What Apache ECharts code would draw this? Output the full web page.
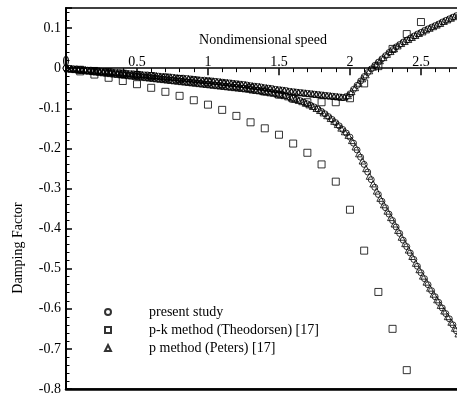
<!DOCTYPE html>
<html>
<head>
<meta charset="utf-8">
<script src="https://cdn.jsdelivr.net/npm/echarts@6/dist/echarts.min.js"></script>
<style>
  html, body { margin: 0; padding: 0; background: #fff; }
  #chart { width: 457px; height: 398px; }
</style>
</head>
<body>
<div id="chart"></div>
<script>
// Speed sweep used by the present study (circles)
const presentSpeed = [
  0, 0.025, 0.05, 0.075, 0.1, 0.125, 0.15, 0.175, 0.2, 0.225,
  0.25, 0.275, 0.3, 0.325, 0.35, 0.375, 0.4, 0.425, 0.45, 0.475,
  0.5, 0.525, 0.55, 0.575, 0.6, 0.625, 0.65, 0.675, 0.7, 0.725,
  0.75, 0.775, 0.8, 0.825, 0.85, 0.875, 0.9, 0.925, 0.95, 0.975,
  1, 1.025, 1.05, 1.075, 1.1, 1.125, 1.15, 1.175, 1.2, 1.225,
  1.25, 1.275, 1.3, 1.325, 1.35, 1.375, 1.4, 1.425, 1.45, 1.475,
  1.5, 1.525, 1.55, 1.575, 1.6, 1.625, 1.65, 1.675, 1.7, 1.725,
  1.75, 1.775, 1.8, 1.825, 1.85, 1.875, 1.9, 1.925, 1.95, 1.975,
  2, 2.025, 2.05, 2.075, 2.1, 2.125, 2.15, 2.175, 2.2, 2.225,
  2.25, 2.275, 2.3, 2.325, 2.35, 2.375, 2.4, 2.425, 2.45, 2.475,
  2.5, 2.525, 2.55, 2.575, 2.6, 2.625, 2.65, 2.675, 2.7, 2.725,
  2.75
];
// Present study, flutter mode
const presentModeA = [
  0, -0.001, -0.002, -0.002, -0.003, -0.004, -0.005, -0.005, -0.006, -0.007,
  -0.008, -0.008, -0.009, -0.010, -0.011, -0.011, -0.012, -0.013, -0.014, -0.014,
  -0.015, -0.016, -0.017, -0.017, -0.018, -0.019, -0.020, -0.021, -0.021, -0.022,
  -0.023, -0.024, -0.025, -0.025, -0.026, -0.027, -0.028, -0.029, -0.030, -0.030,
  -0.031, -0.032, -0.033, -0.034, -0.035, -0.036, -0.037, -0.038, -0.039, -0.040,
  -0.041, -0.042, -0.044, -0.045, -0.046, -0.047, -0.049, -0.050, -0.051, -0.053,
  -0.054, -0.055, -0.056, -0.058, -0.059, -0.060, -0.061, -0.062, -0.063, -0.064,
  -0.065, -0.066, -0.067, -0.068, -0.069, -0.070, -0.071, -0.072, -0.073, -0.071,
  -0.064, -0.053, -0.043, -0.032, -0.021, -0.011, -0.002, 0.007, 0.015, 0.023,
  0.031, 0.039, 0.046, 0.053, 0.059, 0.065, 0.070, 0.075, 0.080, 0.085,
  0.089, 0.094, 0.098, 0.102, 0.106, 0.110, 0.115, 0.119, 0.123, 0.127,
  0.131
];
// Present study, damped mode
const presentModeB = [
  0, -0.001, -0.002, -0.003, -0.004, -0.005, -0.006, -0.007, -0.008, -0.009,
  -0.010, -0.011, -0.012, -0.013, -0.014, -0.015, -0.016, -0.017, -0.018, -0.019,
  -0.020, -0.021, -0.022, -0.023, -0.024, -0.025, -0.026, -0.027, -0.028, -0.029,
  -0.030, -0.031, -0.032, -0.033, -0.034, -0.035, -0.036, -0.037, -0.038, -0.039,
  -0.040, -0.041, -0.042, -0.043, -0.044, -0.045, -0.046, -0.047, -0.048, -0.049,
  -0.050, -0.051, -0.053, -0.054, -0.055, -0.057, -0.058, -0.060, -0.061, -0.063,
  -0.065, -0.067, -0.069, -0.072, -0.075, -0.078, -0.081, -0.085, -0.089, -0.093,
  -0.097, -0.102, -0.108, -0.114, -0.121, -0.128, -0.136, -0.144, -0.153, -0.162,
  -0.172, -0.187, -0.204, -0.222, -0.240, -0.259, -0.278, -0.297, -0.315, -0.332,
  -0.348, -0.364, -0.380, -0.396, -0.412, -0.429, -0.445, -0.461, -0.477, -0.494,
  -0.510, -0.525, -0.540, -0.555, -0.570, -0.584, -0.598, -0.612, -0.625, -0.640,
  -0.655
];

// Speed sweep used by the p method (triangles)
const petersSpeed = [
  0.0125, 0.0375, 0.0625, 0.0875, 0.1125, 0.1375, 0.1625, 0.1875, 0.2125, 0.2375,
  0.2625, 0.2875, 0.3125, 0.3375, 0.3625, 0.3875, 0.4125, 0.4375, 0.4625, 0.4875,
  0.5125, 0.5375, 0.5625, 0.5875, 0.6125, 0.6375, 0.6625, 0.6875, 0.7125, 0.7375,
  0.7625, 0.7875, 0.8125, 0.8375, 0.8625, 0.8875, 0.9125, 0.9375, 0.9625, 0.9875,
  1.0125, 1.0375, 1.0625, 1.0875, 1.1125, 1.1375, 1.1625, 1.1875, 1.2125, 1.2375,
  1.2625, 1.2875, 1.3125, 1.3375, 1.3625, 1.3875, 1.4125, 1.4375, 1.4625, 1.4875,
  1.5125, 1.5375, 1.5625, 1.5875, 1.6125, 1.6375, 1.6625, 1.6875, 1.7125, 1.7375,
  1.7625, 1.7875, 1.8125, 1.8375, 1.8625, 1.8875, 1.9125, 1.9375, 1.9625, 1.9875,
  2.0125, 2.0375, 2.0625, 2.0875, 2.1125, 2.1375, 2.1625, 2.1875, 2.2125, 2.2375,
  2.2625, 2.2875, 2.3125, 2.3375, 2.3625, 2.3875, 2.4125, 2.4375, 2.4625, 2.4875,
  2.5125, 2.5375, 2.5625, 2.5875, 2.6125, 2.6375, 2.6625, 2.6875, 2.7125, 2.7375,
  2.7625
];
const petersModeA = [
  -0.001, -0.001, -0.002, -0.003, -0.003, -0.004, -0.005, -0.006, -0.006, -0.007,
  -0.008, -0.009, -0.009, -0.010, -0.011, -0.012, -0.012, -0.013, -0.014, -0.015,
  -0.015, -0.016, -0.017, -0.018, -0.018, -0.019, -0.020, -0.021, -0.022, -0.022,
  -0.023, -0.024, -0.025, -0.026, -0.026, -0.027, -0.028, -0.029, -0.030, -0.031,
  -0.031, -0.032, -0.033, -0.034, -0.035, -0.036, -0.037, -0.038, -0.039, -0.040,
  -0.041, -0.043, -0.044, -0.045, -0.046, -0.048, -0.049, -0.050, -0.052, -0.053,
  -0.054, -0.055, -0.057, -0.058, -0.059, -0.060, -0.061, -0.062, -0.063, -0.064,
  -0.065, -0.066, -0.067, -0.068, -0.069, -0.070, -0.071, -0.072, -0.072, -0.068,
  -0.058, -0.048, -0.037, -0.026, -0.016, -0.006, 0.003, 0.011, 0.019, 0.027,
  0.035, 0.042, 0.049, 0.056, 0.062, 0.067, 0.072, 0.077, 0.082, 0.087,
  0.091, 0.096, 0.100, 0.104, 0.108, 0.112, 0.117, 0.121, 0.125, 0.129,
  0.133
];
const petersModeB = [
  -0.001, -0.002, -0.003, -0.004, -0.005, -0.006, -0.007, -0.008, -0.009, -0.010,
  -0.011, -0.012, -0.013, -0.014, -0.015, -0.016, -0.017, -0.018, -0.019, -0.020,
  -0.021, -0.022, -0.023, -0.024, -0.025, -0.026, -0.027, -0.028, -0.029, -0.030,
  -0.031, -0.032, -0.033, -0.034, -0.035, -0.036, -0.037, -0.038, -0.039, -0.040,
  -0.041, -0.042, -0.043, -0.044, -0.045, -0.046, -0.047, -0.048, -0.049, -0.050,
  -0.051, -0.052, -0.054, -0.055, -0.056, -0.058, -0.059, -0.061, -0.062, -0.064,
  -0.066, -0.068, -0.071, -0.074, -0.077, -0.080, -0.083, -0.087, -0.091, -0.095,
  -0.100, -0.105, -0.111, -0.118, -0.125, -0.132, -0.140, -0.149, -0.158, -0.167,
  -0.180, -0.196, -0.213, -0.231, -0.250, -0.269, -0.288, -0.306, -0.324, -0.340,
  -0.356, -0.372, -0.388, -0.404, -0.421, -0.437, -0.453, -0.469, -0.486, -0.502,
  -0.518, -0.533, -0.548, -0.563, -0.577, -0.591, -0.605, -0.619, -0.633, -0.648,
  -0.662
];

// p-k method (squares)
const pkSpeedA = [
  0.1, 0.2, 0.3, 0.4, 0.5, 0.6, 0.7, 0.8, 0.9, 1.0,
  1.1, 1.2, 1.3, 1.4, 1.5, 1.6, 1.7, 1.8, 1.9, 2.0,
  2.1, 2.2, 2.3, 2.4, 2.5
];
const pkModeA = [
  -0.004, -0.007, -0.010, -0.014, -0.017, -0.020, -0.024, -0.027, -0.031, -0.035,
  -0.039, -0.044, -0.050, -0.058, -0.066, -0.076, -0.085, -0.085, -0.085, -0.075,
  -0.038, 0.005, 0.048, 0.085, 0.115
];
const pkSpeedB = [
  0.1, 0.2, 0.3, 0.4, 0.5, 0.6, 0.7, 0.8, 0.9, 1.0,
  1.1, 1.2, 1.3, 1.4, 1.5, 1.6, 1.7, 1.8, 1.9, 2.0,
  2.1, 2.2, 2.3, 2.4
];
const pkModeB = [
  -0.008, -0.016, -0.024, -0.032, -0.040, -0.049, -0.059, -0.069, -0.080, -0.091,
  -0.104, -0.119, -0.135, -0.150, -0.166, -0.188, -0.211, -0.240, -0.283, -0.353,
  -0.455, -0.558, -0.650, -0.753
];

const xTicks = ['0', '0.5', '1', '1.5', '2', '2.5'];
const legendNames = ['present study', 'p-k method (Theodorsen) [17]', 'p method (Peters) [17]'];

const FONT = '"Liberation Serif", "Times New Roman", serif';
const GRID_TOP = 8;
const pairs = (xs, ys) => xs.map((x, i) => [x, ys[i]]);

const hollow = { color: 'rgba(0,0,0,0)', borderColor: '#000', borderWidth: 1 };

function scatter(name, xs, ys, symbol, size) {
  return {
    type: 'scatter',
    name: name,
    data: pairs(xs, ys),
    symbol: symbol,
    symbolSize: size,
    itemStyle: hollow,
    emphasis: { disabled: true },
    silent: true
  };
}

const chart = echarts.init(document.getElementById('chart'), null, { renderer: 'canvas', width: 457, height: 398 });

chart.setOption({
  animation: false,
  backgroundColor: '#fff',
  textStyle: { fontFamily: FONT, color: '#000' },
  grid: {
    left: 66, top: GRID_TOP, right: -3, bottom: 9,
    outerBoundsMode: 'none',
    containLabel: false,
    show: true, borderColor: '#000', borderWidth: 1.5, backgroundColor: 'transparent'
  },
  legend: {
    data: legendNames.map(n => ({ name: n })),
    orient: 'vertical',
    left: 104, top: 305,
    padding: 0,
    itemWidth: 6, itemHeight: 6, itemGap: 4,
    selectedMode: false,
    textStyle: { fontFamily: FONT, fontSize: 14, color: '#000', lineHeight: 14, padding: [0, 0, 0, 33] }
  },
  xAxis: [{
    // speed axis, shifted down below so it crosses the damping axis at zero
    type: 'value',
    position: 'top',
    offset: 0,
    min: 0, max: 2.775, interval: 0.5,
    name: 'Nondimensional speed',
    nameLocation: 'middle',
    nameGap: 21,
    nameTextStyle: { fontFamily: FONT, fontSize: 14, color: '#000' },
    axisLine: { onZero: false, lineStyle: { color: '#000', width: 1.5 } },
    axisTick: { inside: true, length: 7, lineStyle: { color: '#000', width: 1.5 } },
    minorTick: { show: true, splitNumber: 5, length: 4, lineStyle: { color: '#000', width: 1 } },
    axisLabel: {
      margin: -1, fontFamily: FONT, fontSize: 14, color: '#000',
      showMaxLabel: false,
      formatter: v => {
        const k = Math.round(v * 2);
        return Math.abs(v * 2 - k) < 1e-6 && k < xTicks.length ? xTicks[k] : '';
      }
    },
    splitLine: { show: false }
  }, {
    type: 'value',
    position: 'bottom',
    min: 0, max: 2.775,
    axisLine: { onZero: false, lineStyle: { color: '#000', width: 2.5 } },
    axisTick: { show: false },
    axisLabel: { show: false },
    splitLine: { show: false }
  }],
  yAxis: {
    type: 'value',
    min: -0.8, max: 0.15, interval: 0.1,
    axisLine: { onZero: false, lineStyle: { color: '#000', width: 2 } },
    axisTick: { inside: true, length: 6, lineStyle: { color: '#000', width: 1.5 } },
    minorTick: { show: true, splitNumber: 5, length: 3.5, lineStyle: { color: '#000', width: 1 } },
    axisLabel: {
      margin: 5, fontFamily: FONT, fontSize: 14, color: '#000',
      showMaxLabel: false,
      formatter: v => {
        const k = Math.round(v * 10);
        return Math.abs(v * 10 - k) < 1e-6 ? String(k / 10) : '';
      }
    },
    splitLine: { show: false }
  },
  graphic: [{
    type: 'text',
    x: 18, y: 248,
    rotation: Math.PI / 2,
    style: {
      text: 'Damping Factor',
      font: '14px ' + FONT,
      fill: '#000',
      align: 'center',
      verticalAlign: 'middle'
    },
    silent: true
  }],
  series: [
    scatter(legendNames[0], presentSpeed, presentModeA, 'circle', 6),
    scatter(legendNames[0], presentSpeed, presentModeB, 'circle', 6),
    scatter(legendNames[1], pkSpeedA, pkModeA, 'rect', 7),
    scatter(legendNames[1], pkSpeedB, pkModeB, 'rect', 7),
    scatter(legendNames[2], petersSpeed, petersModeA, 'triangle', 6.5),
    scatter(legendNames[2], petersSpeed, petersModeB, 'triangle', 6.5)
  ]
});

// Move the speed axis onto the zero-damping line using the y scale
const zeroY = chart.convertToPixel({ yAxisIndex: 0 }, 0);
chart.setOption({ xAxis: [{ offset: -(zeroY - GRID_TOP) }, {}] });
</script>
</body>
</html>
